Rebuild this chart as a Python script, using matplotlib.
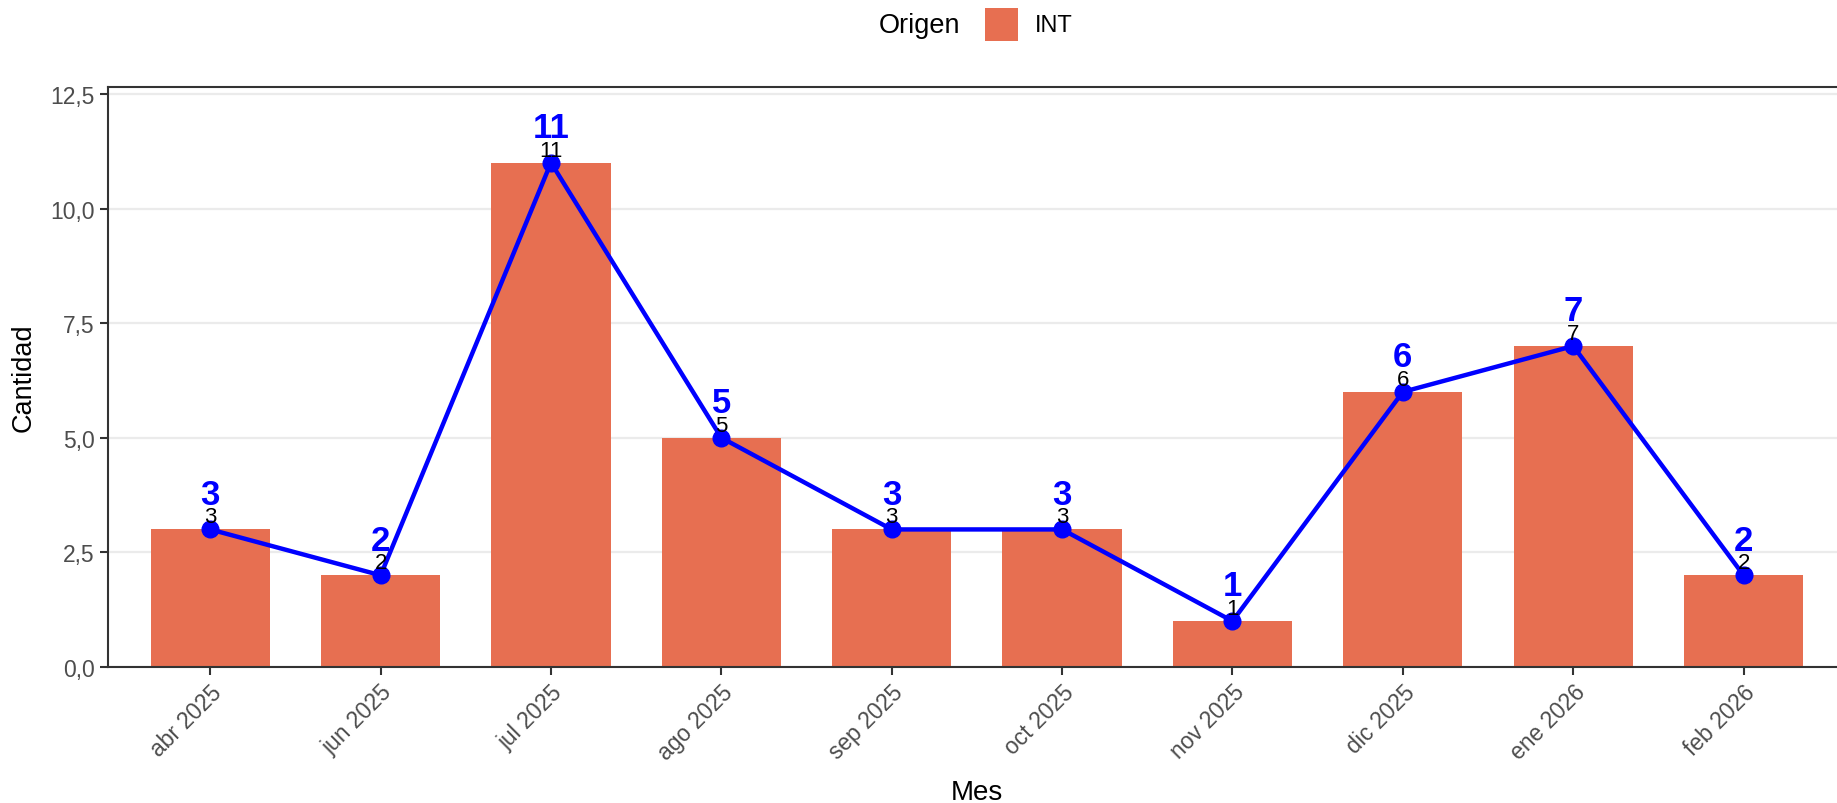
import matplotlib
matplotlib.use("Agg")
import matplotlib.pyplot as plt
from matplotlib.patches import Rectangle

meses = ["abr 2025", "jun 2025", "jul 2025", "ago 2025", "sep 2025",
         "oct 2025", "nov 2025", "dic 2025", "ene 2026", "feb 2026"]
cantidad = [3, 2, 11, 5, 3, 3, 1, 6, 7, 2]
origen = "INT"
yticks = [0, 2.5, 5.0, 7.5, 10.0, 12.5]

BAR = "#E76F51"
GREY = "#4D4D4D"
W, H = 1837, 804

plt.rcParams["font.family"] = ["Liberation Sans", "DejaVu Sans"]


def main():
    fig = plt.figure(figsize=(W / 100, H / 100), dpi=100)
    ax = fig.add_axes([0.0588, 0.1692, 0.946, 0.7213])

    x = list(range(len(meses)))
    ax.bar(x, cantidad, width=0.7, color=BAR, zorder=2)
    ax.plot(x, cantidad, color="#0000FF", lw=3.2, marker="o", ms=12, zorder=3)

    for xi, v in zip(x, cantidad):
        ax.annotate(str(v), (xi, v), xytext=(0, 5), textcoords="offset points",
                    ha="center", va="baseline", fontsize=16, color="black", zorder=4)
        ax.annotate(str(v), (xi, v), xytext=(0, 18.5), textcoords="offset points",
                    ha="center", va="baseline", fontsize=25, fontweight="bold",
                    color="#0000FF", zorder=4)

    ax.set_xlim(-0.6, 9.6)
    ax.set_ylim(0, 12.65)
    ax.set_yticks(yticks)
    ax.set_yticklabels([f"{t:.1f}".replace(".", ",") for t in yticks])
    ax.set_xticks(x)
    ax.set_xticklabels(meses, rotation=45, ha="right", rotation_mode="anchor")
    ax.tick_params(axis="both", labelsize=16.5, labelcolor=GREY, color="#333333",
                   length=6, width=1.5)
    ax.grid(axis="y", color="#EBEBEB", lw=1.6, zorder=0)
    ax.set_axisbelow(True)
    for s in ["left", "bottom", "top"]:
        ax.spines[s].set_color("#333333")
        ax.spines[s].set_linewidth(1.5)
    ax.spines["right"].set_visible(False)

    ax.set_ylabel("Cantidad", fontsize=19.5, labelpad=10)
    ax.set_xlabel("Mes", fontsize=20, labelpad=11)

    # legend on top: title, key, label
    yc = 1 - 26 / H
    fig.text(879 / W, yc, "Origen", fontsize=19.5, ha="left", va="center")
    fig.patches.append(Rectangle((985 / W, 1 - 42 / H), 33 / W, 33 / H,
                                 transform=fig.transFigure, facecolor=BAR,
                                 edgecolor="none"))
    fig.text(1035 / W, yc, origen, fontsize=17, ha="left", va="center")

    fig.savefig("out.png", dpi=100)
    plt.close("all")


if __name__ == "__main__":
    main()
